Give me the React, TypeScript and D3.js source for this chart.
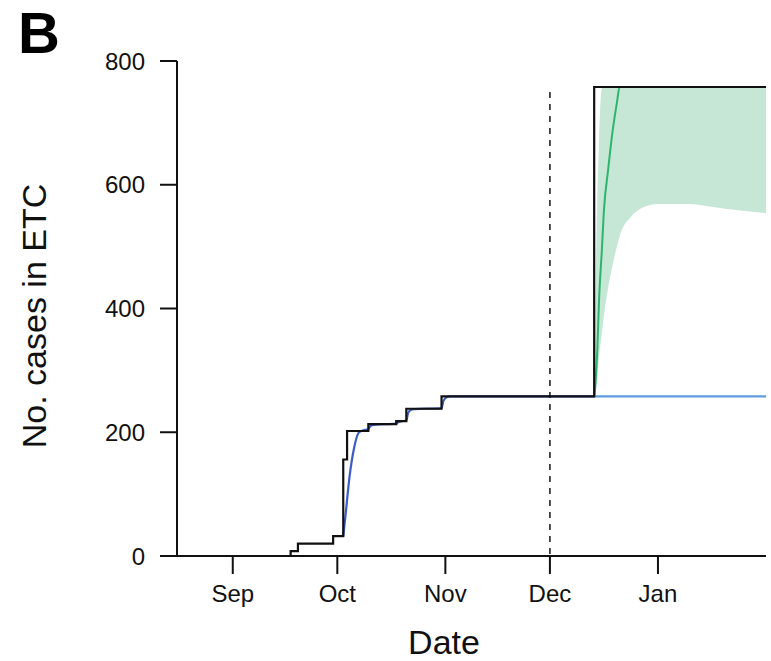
import React from "react";
import * as d3 from "d3";

const stepDays = [-16, 16.6, 18.7, 28.8, 31.7, 32.8, 38.9, 46.9, 49.8, 59.9, 103.7, 153];
const stepCases = [0, 8, 20, 32, 156, 202, 213, 218, 238, 258, 758, 758];

const blueDays = [31.7, 32.3, 33.5, 34.9, 36.1, 37.3, 38.9, 39.5, 40.5, 46.9, 47.4, 48.2, 49.8, 50.3, 51, 52, 59.9, 60.4, 61.2, 62.5, 103.7, 153];
const blueCases = [32, 63, 128, 177, 199, 203, 205, 210, 212, 214, 216, 217.5, 219, 231, 236, 237.5, 239, 250, 256, 258, 258, 258];

const bandDays = [103.8, 104.3, 105, 105.9, 106.5, 107.6, 109.3, 111.3, 114.2, 118, 122, 130.6, 140.2, 153];
const bandUpper = [258, 494, 656, 756, 758, 758, 758, 758, 758, 758, 758, 758, 758, 758];
const bandLower = [258, 270, 317, 360, 388, 430, 478, 522, 548, 564, 569, 569, 562, 554];

const greenDays = [103.8, 104.6, 105.1, 105.9, 106.5, 107.7, 108.9, 110.2, 111, 153];
const greenCases = [258, 333, 414, 494, 559, 624, 683, 732, 758, 758];

const cutoffDay = 91; // 1 Dec 2014
const yTicks = [0, 200, 400, 600, 800];

const width = 771,
  height = 661;

const sep1 = new Date(2014, 8, 1);
const toDate = (d: number) => d3.timeMinute.offset(sep1, Math.round(d * 1440));

const App = () => {
  const x = d3
    .scaleTime()
    .domain([new Date(2014, 7, 16), new Date(2015, 1, 1)])
    .range([177, 766]);
  const y = d3.scaleLinear().domain([0, 800]).range([556, 61]);

  const step = d3
    .line<number>()
    .x((d, i) => x(toDate(stepDays[i])))
    .y((d) => y(d))
    .curve(d3.curveStepAfter);

  const blueLine = (idx: number[]) =>
    d3
      .line<number>()
      .x((i) => x(toDate(blueDays[i])))
      .y((i) => y(blueCases[i]))
      .curve(d3.curveMonotoneX)(idx);

  const blueIdx = blueDays.map((_, i) => i);
  const blueEarly = blueIdx.filter((i) => blueDays[i] <= 103.7);
  const blueLate = blueIdx.filter((i) => blueDays[i] >= 103.7);

  const band = d3
    .area<number>()
    .x((d, i) => x(toDate(bandDays[i])))
    .y0((d, i) => y(bandLower[i]))
    .y1((d) => y(d))
    .curve(d3.curveMonotoneX);

  const green = d3
    .line<number>()
    .x((d, i) => x(toDate(greenDays[i])))
    .y((d) => y(d))
    .curve(d3.curveMonotoneX);

  const months = d3.timeMonth.range(new Date(2014, 8, 1), new Date(2015, 1, 1));
  const fmt = d3.timeFormat("%b");
  const font = "'Liberation Sans', Arial, Helvetica, sans-serif";

  return (
    <div style={{ position: "absolute", left: 0, top: 0 }}>
      <svg width={width} height={height} fontFamily={font}>
        <rect width={width} height={height} fill="white" />
        <path d={band(bandUpper) || ""} fill="#c6e7d6" />
        <path d={green(greenCases) || ""} fill="none" stroke="#2eb46c" strokeWidth={2} />
        <path d={blueLine(blueEarly) || ""} fill="none" stroke="#3d5cc6" strokeWidth={2.2} />
        <path d={blueLine(blueLate) || ""} fill="none" stroke="#5f9be0" strokeWidth={2.2} />
        <line
          x1={x(toDate(cutoffDay))}
          x2={x(toDate(cutoffDay))}
          y1={92}
          y2={556}
          stroke="#222"
          strokeWidth={1.6}
          strokeDasharray="6 6"
        />
        <path d={step(stepCases) || ""} fill="none" stroke="#111" strokeWidth={2.2} />

        {/* axes */}
        <line x1={177} x2={177} y1={y(800)} y2={y(0)} stroke="#111" strokeWidth={2} />
        <line x1={177} x2={766} y1={y(0)} y2={y(0)} stroke="#111" strokeWidth={2} />
        {yTicks.map((t) => (
          <g key={t}>
            <line x1={160} x2={177} y1={y(t)} y2={y(t)} stroke="#111" strokeWidth={2} />
            <text x={145} y={y(t)} dy="0.36em" textAnchor="end" fontSize={24} fill="#111">
              {t}
            </text>
          </g>
        ))}
        {months.map((m) => (
          <g key={m.getTime()}>
            <line x1={x(m)} x2={x(m)} y1={556} y2={574} stroke="#111" strokeWidth={2} />
            <text x={x(m)} y={602} textAnchor="middle" fontSize={24} fill="#111">
              {fmt(m)}
            </text>
          </g>
        ))}
        <text x={444} y={654} textAnchor="middle" fontSize={34} fill="#111">
          Date
        </text>
        <text
          transform="translate(46,316) rotate(-90)"
          textAnchor="middle"
          fontSize={34}
          fill="#111"
        >
          No. cases in ETC
        </text>
        <text x={18} y={53} fontSize={58} fontWeight="bold" fill="#000">
          B
        </text>
      </svg>
    </div>
  );
};

export default App;
